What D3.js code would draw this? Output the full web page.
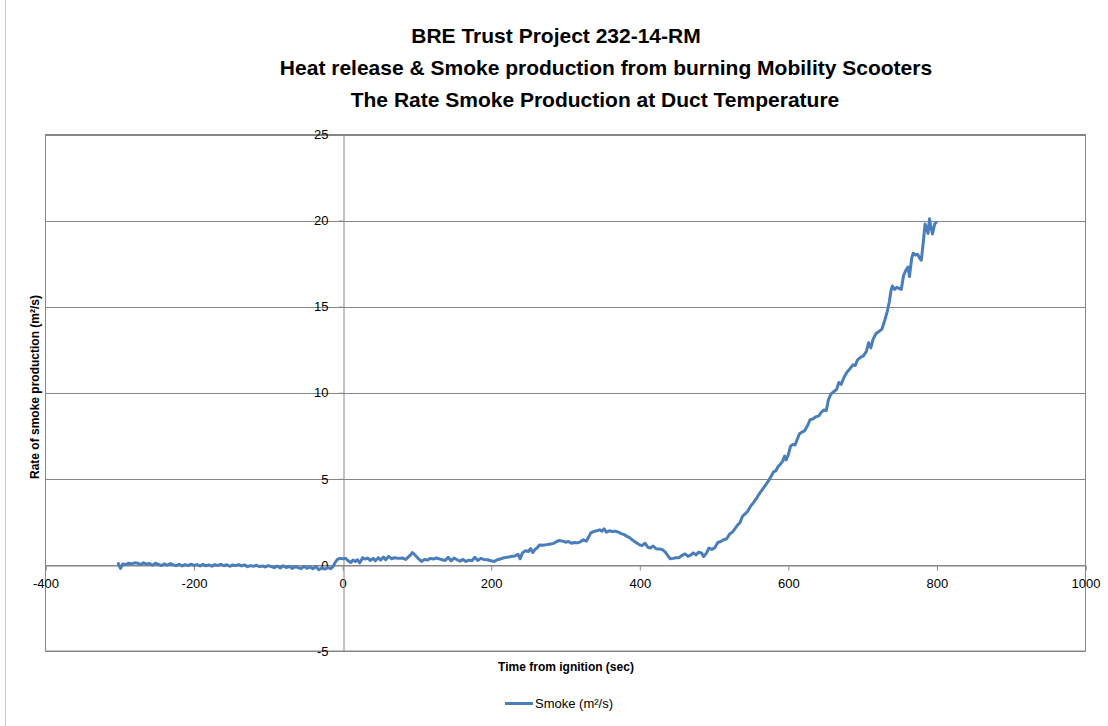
<!DOCTYPE html>
<html>
<head>
<meta charset="utf-8">
<script src="https://cdn.jsdelivr.net/npm/d3@7"></script>
<style>
    body { margin: 0; background: #ffffff; }
    text { font-family: "Liberation Sans", Arial, sans-serif; fill: #000; }
    .title { font-size: 21px; font-weight: bold; }
    .tick text { font-size: 13px; }
    .axisLabel { font-size: 12px; font-weight: bold; }
    .legendText { font-size: 13px; }
</style>
</head>
<body>
<div id="canvas"></div>
<script>
"use strict"
// canvas size
let svgWidth = 1108;
let svgHeight = 726;

// plot area (the grey box)
let plot = { left: 45.5, right: 1085.5, top: 134.5, bottom: 651 };

// chart texts
let titleLines = [
    "BRE Trust Project 232-14-RM",
    "Heat release & Smoke production from burning Mobility Scooters",
    "The Rate Smoke Production at Duct Temperature"
];
let xLabel = "Time from ignition (sec)";
let yLabel = "Rate of smoke production (m\u00b2/s)";
let seriesName = "Smoke (m\u00b2/s)";

// axis ticks
let xTicks = [-400, -200, 0, 200, 400, 600, 800, 1000];
let yTicks = [-5, 0, 5, 10, 15, 20, 25];

// time from ignition (sec)
let timeSec = [
    -302, -299, -296, -292, -288, -284, -280, -276, -272, -268, -264, -260, -256, -252, -248, -244,
    -240, -236, -232, -228, -224, -220, -216, -212, -208, -204, -200, -196, -192, -188, -184, -180,
    -176, -172, -168, -164, -160, -156, -152, -148, -144, -140, -136, -132, -128, -124, -120, -116,
    -112, -108, -104, -100, -96, -92, -88, -84, -80, -76, -72, -68, -64, -60, -56, -52,
    -48, -44, -40, -36, -32, -28, -24, -20, -16, -13, -10, -7, -4, 0, 4, 8,
    11, 14, 17, 20, 23, 27, 30, 34, 37, 41, 44, 48, 51, 55, 58, 62,
    66, 70, 75, 80, 85, 90, 94, 98, 102, 106, 110, 114, 118, 122, 126, 130,
    134, 138, 142, 146, 150, 154, 158, 162, 166, 170, 174, 178, 182, 186, 190, 195,
    200, 204, 208, 212, 216, 220, 224, 228, 232, 236, 239, 242, 246, 250, 253, 256,
    259, 262, 265, 270, 275, 280, 284, 288, 292, 296, 300, 304, 308, 312, 316, 320,
    324, 328, 331, 334, 338, 342, 346, 349, 352, 355, 359, 363, 367, 371, 375, 379,
    383, 387, 391, 395, 399, 403, 407, 411, 414, 418, 422, 426, 430, 434, 438, 441,
    445, 449, 453, 457, 461, 465, 469, 472, 476, 479, 483, 486, 490, 493, 497, 501,
    505, 509, 513, 517, 521, 525, 528, 531, 535, 538, 541, 545, 549, 553, 557, 561,
    565, 569, 573, 577, 580, 583, 586, 589, 592, 595, 597, 600, 603, 606, 609, 612,
    615, 618, 622, 626, 629, 633, 637, 641, 645, 648, 651, 654, 657, 661, 665, 668,
    671, 675, 679, 683, 687, 690, 693, 697, 701, 705, 708, 711, 714, 718, 722, 726,
    730, 733, 736, 738, 740, 743, 746, 749, 752, 755, 758, 761, 763, 766, 768, 771,
    774, 777, 779, 782, 784, 786, 788, 790, 792, 794, 797, 799
];

// rate of smoke production (m2/s) at each time above
let smoke = [
    0.08, -0.20, 0.05, 0.02, 0.10, 0.06, 0.12, 0.10, 0.02, 0.12, 0.04, 0.08, -0.02, 0.10, 0.03, -0.04,
    0.06, -0.02, 0.08, 0.00, -0.05, 0.04, -0.06, 0.02, -0.04, 0.04, -0.03, 0.02, -0.06, 0.03, -0.05, 0.00,
    -0.07, 0.02, -0.04, 0.04, -0.05, 0.01, -0.08, 0.00, -0.04, 0.02, -0.06, 0.00, -0.10, -0.04, -0.08, -0.02,
    -0.10, -0.06, -0.12, -0.04, -0.10, -0.16, -0.06, -0.18, -0.05, -0.15, -0.08, -0.20, -0.10, -0.16, -0.22, -0.08,
    -0.20, -0.12, -0.22, -0.10, -0.28, -0.18, -0.24, -0.16, -0.22, -0.10, 0.15, 0.32, 0.38, 0.36, 0.38, 0.22,
    0.14, 0.28, 0.20, 0.30, 0.12, 0.42, 0.34, 0.40, 0.26, 0.38, 0.24, 0.42, 0.28, 0.46, 0.30, 0.50,
    0.36, 0.42, 0.38, 0.40, 0.32, 0.52, 0.72, 0.55, 0.36, 0.20, 0.32, 0.28, 0.38, 0.34, 0.40, 0.35,
    0.30, 0.26, 0.44, 0.24, 0.40, 0.30, 0.22, 0.32, 0.20, 0.28, 0.24, 0.44, 0.26, 0.38, 0.32, 0.30,
    0.24, 0.20, 0.30, 0.34, 0.40, 0.44, 0.46, 0.50, 0.52, 0.62, 0.36, 0.70, 0.82, 0.78, 0.95, 0.72,
    0.90, 1.00, 1.16, 1.14, 1.18, 1.22, 1.25, 1.36, 1.42, 1.38, 1.32, 1.36, 1.26, 1.30, 1.28, 1.34,
    1.46, 1.38, 1.60, 1.86, 1.94, 1.98, 2.04, 1.96, 2.10, 1.90, 1.98, 1.94, 1.96, 1.90, 1.82, 1.76,
    1.66, 1.56, 1.42, 1.30, 1.18, 1.12, 1.26, 1.02, 0.98, 1.10, 0.94, 0.92, 0.90, 0.76, 0.52, 0.36,
    0.38, 0.42, 0.42, 0.56, 0.64, 0.50, 0.58, 0.70, 0.58, 0.74, 0.70, 0.48, 0.70, 0.98, 0.90, 1.00,
    1.30, 1.36, 1.46, 1.52, 1.80, 1.92, 2.10, 2.28, 2.46, 2.80, 2.94, 3.10, 3.40, 3.62, 3.86, 4.14,
    4.38, 4.62, 4.86, 5.16, 5.40, 5.46, 5.70, 5.84, 6.00, 6.32, 6.10, 6.40, 6.90, 7.00, 6.96, 7.30,
    7.62, 7.70, 7.80, 8.10, 8.42, 8.48, 8.60, 8.66, 8.90, 9.00, 8.96, 9.60, 9.90, 10.06, 10.20, 10.60,
    10.48, 10.90, 11.20, 11.40, 11.62, 11.58, 11.90, 12.06, 12.14, 12.40, 12.90, 12.60, 13.10, 13.44, 13.56, 13.70,
    14.24, 14.70, 15.30, 15.90, 16.20, 16.00, 16.12, 16.06, 16.00, 16.80, 17.10, 17.30, 16.75, 17.80, 18.10, 18.00,
    18.04, 17.80, 17.70, 18.90, 19.80, 19.60, 19.25, 20.10, 19.60, 19.22, 19.80, 19.90
];

let lineColor = "#4a7ebb";
let gridColor = "#868686";

let svg = d3.select("#canvas")
    .append("svg")
    .attr("width", svgWidth)
    .attr("height", svgHeight);

svg.append("rect")
    .attr("width", svgWidth)
    .attr("height", svgHeight)
    .attr("fill", "#ffffff");

// faint chart-area border on the left
svg.append("line")
    .attr("x1", 5.5).attr("x2", 5.5)
    .attr("y1", 0).attr("y2", svgHeight)
    .attr("stroke", "#c8c8c8");

let xScale = d3.scaleLinear().domain([-400, 1000]).range([plot.left, plot.right]);
let yScale = d3.scaleLinear().domain([-5, 25]).range([plot.bottom, plot.top]);

// titles
let titleCenters = [556, 606, 595];
titleLines.forEach(function(t, i) {
    svg.append("text")
        .attr("class", "title")
        .attr("x", titleCenters[i])
        .attr("y", 43 + i * 32)
        .attr("text-anchor", "middle")
        .text(t);
});

// horizontal gridlines
svg.append("g")
    .selectAll("line")
    .data(yTicks)
    .join("line")
    .attr("x1", plot.left).attr("x2", plot.right)
    .attr("y1", d => Math.round(yScale(d)) + 0.5)
    .attr("y2", d => Math.round(yScale(d)) + 0.5)
    .attr("stroke", gridColor);

// plot area border
svg.append("rect")
    .attr("x", plot.left).attr("y", plot.top)
    .attr("width", plot.right - plot.left)
    .attr("height", plot.bottom - plot.top)
    .attr("fill", "none")
    .attr("stroke", gridColor);

// plain hyphen for negatives, like the original
let plainNumber = d => String(d);

// x axis crosses at y = 0
let xAxis = d3.axisBottom(xScale)
    .tickValues(xTicks)
    .tickSize(5)
    .tickPadding(8)
    .tickFormat(plainNumber);

let gx = svg.append("g")
    .attr("transform", "translate(0," + (Math.round(yScale(0)) + 0.5) + ")")
    .call(xAxis);
gx.select(".domain").attr("stroke", gridColor);
gx.selectAll(".tick line").attr("stroke", gridColor);
gx.selectAll(".tick text").attr("fill", "#000");

// y axis crosses at x = 0
let yAxis = d3.axisLeft(yScale)
    .tickValues(yTicks)
    .tickSize(5)
    .tickPadding(10)
    .tickFormat(plainNumber);

let gy = svg.append("g")
    .attr("transform", "translate(" + (Math.round(xScale(0)) + 0.5) + ",0)")
    .call(yAxis);
gy.select(".domain").attr("stroke", gridColor);
gy.selectAll(".tick line").attr("stroke", gridColor);
gy.selectAll(".tick text").attr("fill", "#000");

// smoke series
let points = timeSec.map(function(t, i) { return [t, smoke[i]]; });

let line = d3.line()
    .x(d => xScale(d[0]))
    .y(d => yScale(d[1]));

svg.append("path")
    .datum(points)
    .attr("d", line)
    .attr("fill", "none")
    .attr("stroke", lineColor)
    .attr("stroke-width", 3)
    .attr("stroke-linejoin", "round")
    .attr("stroke-linecap", "round");

// axis titles
svg.append("text")
    .attr("class", "axisLabel")
    .attr("x", 566)
    .attr("y", 671)
    .attr("text-anchor", "middle")
    .text(xLabel);

svg.append("text")
    .attr("class", "axisLabel")
    .attr("transform", "translate(39,387) rotate(-90)")
    .attr("text-anchor", "middle")
    .text(yLabel);

// legend
svg.append("line")
    .attr("x1", 505).attr("x2", 533)
    .attr("y1", 703.5).attr("y2", 703.5)
    .attr("stroke", lineColor)
    .attr("stroke-width", 3);

svg.append("text")
    .attr("class", "legendText")
    .attr("x", 535)
    .attr("y", 708)
    .text(seriesName);
</script>
</body>
</html>
